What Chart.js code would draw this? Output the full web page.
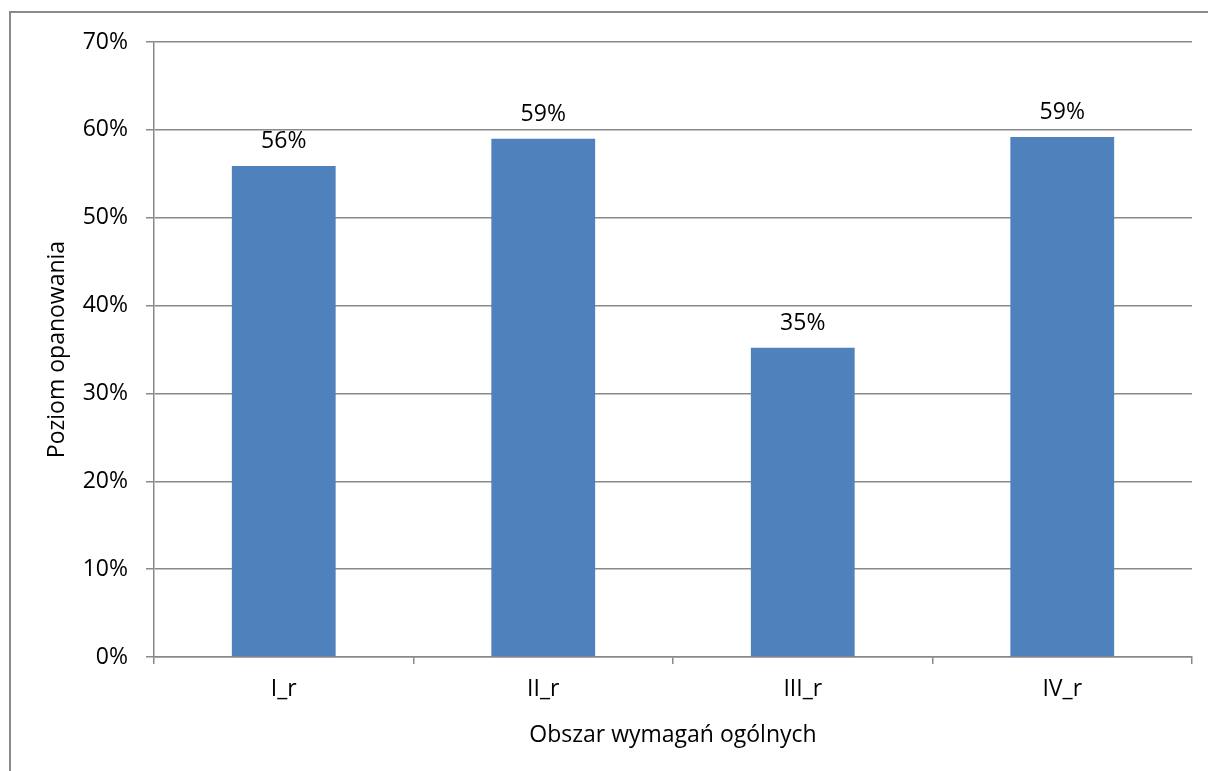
<!DOCTYPE html>
<html>
<head>
<meta charset="utf-8">
<script src="https://cdn.jsdelivr.net/npm/chart.js@4"></script>
<style>
    html, body { margin: 0; padding: 0; background: #fff; overflow: hidden; }
    #frame {
        position: absolute; left: 9px; top: 11px; width: 1400px; height: 1000px;
        border-left: 2px solid #8a8a8a; border-top: 2px solid #8a8a8a;
    }
    #wrap { position: absolute; left: 0; top: 0; width: 1208px; height: 771px; }
</style>
</head>
<body>
<div id="frame"></div>
<div id="wrap"><canvas id="chart"></canvas></div>
<script>
const categories = ['I_r', 'II_r', 'III_r', 'IV_r'];
const values = [55.9, 59.0, 35.2, 59.2];
const yTicks = [0, 10, 20, 30, 40, 50, 60, 70];

const gridColor = '#898989';
const fontSize = 23;

// value labels above the bars
const barLabels = {
    id: 'barLabels',
    afterDatasetsDraw(chart) {
        const ctx = chart.ctx;
        const meta = chart.getDatasetMeta(0);
        ctx.save();
        ctx.font = fontSize + 'px "Open Sans"';
        ctx.fillStyle = '#000';
        ctx.textAlign = 'center';
        ctx.textBaseline = 'alphabetic';
        meta.data.forEach((bar, i) => {
            ctx.fillText(Math.round(values[i]) + '%', bar.x, bar.y - 18);
        });
        ctx.restore();
    }
};

Chart.defaults.font.family = '"Open Sans"';
Chart.defaults.font.size = fontSize;
Chart.defaults.color = '#000';

new Chart(document.getElementById('chart'), {
    type: 'bar',
    data: {
        labels: categories,
        datasets: [{
            data: values,
            backgroundColor: '#4f81bd',
            categoryPercentage: 1,
            barPercentage: 0.4
        }]
    },
    options: {
        responsive: true,
        maintainAspectRatio: false,
        animation: false,
        layout: { padding: { left: 32, top: 42, right: 16, bottom: 12 } },
        plugins: {
            legend: { display: false },
            tooltip: { enabled: false }
        },
        scales: {
            x: {
                grid: { drawOnChartArea: false, drawTicks: true, tickLength: 7, color: gridColor, lineWidth: 1.5, offset: true },
                border: { display: true, color: gridColor, width: 1.5 },
                ticks: { padding: 12 },
                title: { display: true, text: 'Obszar wymagań ogólnych', padding: { top: 0, bottom: 10 } },
                afterFit(scale) { scale.height = 771 - 12 - 657; }
            },
            y: {
                min: 0,
                max: 70,
                afterBuildTicks(scale) { scale.ticks = yTicks.map(v => ({ value: v })); },
                ticks: { padding: 18, callback: v => v + '%' },
                grid: { color: gridColor, lineWidth: 1.5, tickLength: 8 },
                border: { display: true, color: gridColor, width: 1.5 },
                title: { display: true, text: 'Poziom opanowania', padding: { top: 12, bottom: 0 } },
                afterFit(scale) { scale.width = 154 - 32; }
            }
        }
    },
    plugins: [barLabels]
});
</script>
</body>
</html>
